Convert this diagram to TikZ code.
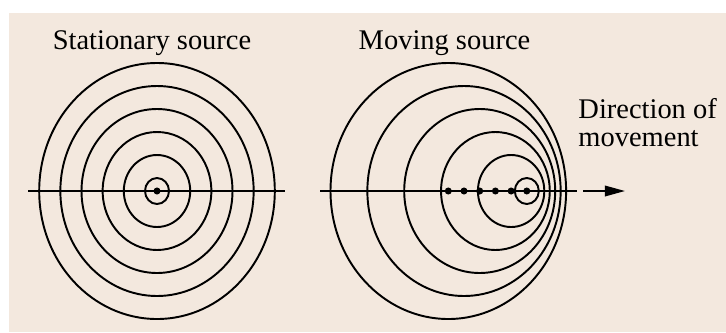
\documentclass[tikz,border=0pt]{standalone}
\usepackage{fontspec}
\setmainfont{Liberation Serif}
\usetikzlibrary{arrows.meta}
\definecolor{paper}{RGB}{243,232,222}

\begin{document}
\begin{tikzpicture}[x=0.02cm, y=-0.02cm, line width=1.1pt,
  srcdot/.style={circle, fill=black, inner sep=0pt, minimum size=4pt},
  caption/.style={font=\fontsize{16.2}{16.05}\selectfont, inner sep=0pt}]
\useasboundingbox (0,0) rectangle (726,332);
\fill[paper] (9,13) rectangle (726,332);

% stationary source
\node[caption, anchor=base] (stilltitle) at (152,49.5) {Stationary source};
\coordinate (stillW) at (28,191);
\coordinate (stillE) at (285,191);
\draw (stillW) -- (stillE);
\draw (157,191) ellipse [x radius=12, y radius=13];
\draw (157,191) ellipse [x radius=33.2, y radius=36];
\draw (157,191) ellipse [x radius=54.35, y radius=59];
\draw (157,191) ellipse [x radius=75.5, y radius=82];
\draw (157,191) ellipse [x radius=96.65, y radius=105];
\draw (157,191) ellipse [x radius=117.8, y radius=128];
\node[srcdot] (still) at (157,191) {};

% moving source
\node[caption, anchor=base] (movetitle) at (444.5,49.5) {Moving source};
\coordinate (moveW) at (320,191);
\coordinate (moveE) at (576.7,191);
\draw (moveW) -- (moveE);
\node[srcdot] (m0) at (448.3,191) {};
\node[srcdot] (m1) at (464.0,191) {};
\node[srcdot] (m2) at (479.7,191) {};
\node[srcdot] (m3) at (495.4,191) {};
\node[srcdot] (m4) at (511.1,191) {};
\node[srcdot] (m5) at (526.8,191) {};
\draw (m0.center) ellipse [x radius=117.8, y radius=128];
\draw (m1.center) ellipse [x radius=96.65, y radius=105];
\draw (m2.center) ellipse [x radius=75.5, y radius=82];
\draw (m3.center) ellipse [x radius=54.35, y radius=59];
\draw (m4.center) ellipse [x radius=33.2, y radius=36];
\draw (m5.center) ellipse [x radius=12, y radius=13];

% direction
\coordinate (arrowtail) at (583,191);
\coordinate (arrowtip) at (625,191);
\draw[-{Triangle[length=11.5pt, width=6pt]}] (arrowtail) -- (arrowtip);
\node[caption, anchor=base west, align=left] (dirlabel) at (577.5,146.7) {Direction of\\movement};
\end{tikzpicture}
\end{document}
